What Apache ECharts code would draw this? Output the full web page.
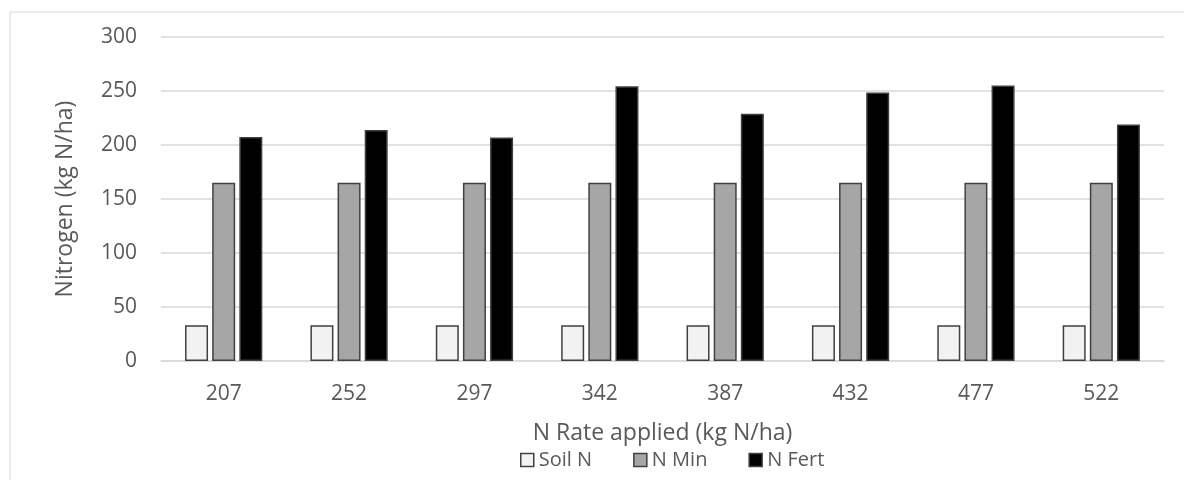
<!DOCTYPE html>
<html>
<head>
<meta charset="utf-8">
<script src="https://cdn.jsdelivr.net/npm/echarts@6/dist/echarts.min.js"></script>
<style>
  html, body { margin: 0; padding: 0; background: #ffffff; }
  #chart { width: 1184px; height: 480px; }
</style>
</head>
<body>
<div id="chart"></div>
<script>
const categories = ['207', '252', '297', '342', '387', '432', '477', '522'];
const soilN = [33, 33, 33, 33, 33, 33, 33, 33];
const nMin = [165, 165, 165, 165, 165, 165, 165, 165];
const nFert = [207.5, 214, 207, 254.5, 229, 248.5, 255, 219];
const yTicks = { min: 0, max: 300, interval: 50 };

const FONT = 'Open Sans';
const TXT = '#595959';

const chart = echarts.init(document.getElementById('chart'), null, { renderer: 'canvas' });

function barSeries(name, data, fill) {
  return {
    name: name,
    type: 'bar',
    data: data,
    barWidth: 23,
    barGap: '18%',
    itemStyle: { color: fill, borderColor: '#404040', borderWidth: 1.5 },
    emphasis: { disabled: true }
  };
}

chart.setOption({
  animation: false,
  backgroundColor: '#ffffff',
  textStyle: { fontFamily: FONT, color: TXT },
  graphic: [{
    type: 'rect',
    shape: { x: 10, y: 12, width: 1200, height: 500 },
    style: { fill: 'none', stroke: '#d9d9d9', lineWidth: 1 },
    silent: true,
    z: -10
  }],
  grid: { left: 161, right: 20, top: 37, bottom: 119, containLabel: false },
  legend: {
    data: ['Soil N', 'N Min', 'N Fert'],
    left: 520,
    top: 450,
    padding: 0,
    itemWidth: 13,
    itemHeight: 13,
    itemGap: 41,
    icon: 'rect',
    selectedMode: false,
    textStyle: { fontFamily: FONT, fontSize: 20, color: TXT },
    itemStyle: { borderColor: '#404040', borderWidth: 1.5 }
  },
  xAxis: {
    type: 'category',
    data: categories,
    name: 'N Rate applied (kg N/ha)',
    nameLocation: 'middle',
    nameGap: 61,
    nameTextStyle: { fontFamily: FONT, fontSize: 23, color: TXT },
    axisLine: { show: true, lineStyle: { color: '#d9d9d9', width: 1.5 } },
    axisTick: { show: false },
    axisLabel: { fontFamily: FONT, fontSize: 21, color: TXT, margin: 23 }
  },
  yAxis: {
    type: 'value',
    min: yTicks.min,
    max: yTicks.max,
    interval: yTicks.interval,
    name: 'Nitrogen (kg N/ha)',
    nameLocation: 'middle',
    nameGap: 84,
    nameRotate: 90,
    nameTextStyle: { fontFamily: FONT, fontSize: 23, color: TXT },
    axisLine: { show: false },
    axisTick: { show: false },
    splitLine: { show: true, lineStyle: { color: '#d9d9d9', width: 1.5 } },
    axisLabel: { fontFamily: FONT, fontSize: 21, color: TXT, margin: 24 }
  },
  series: [
    barSeries('Soil N', soilN, '#f2f2f2'),
    barSeries('N Min', nMin, '#a6a6a6'),
    barSeries('N Fert', nFert, '#000000')
  ]
});
</script>
</body>
</html>
